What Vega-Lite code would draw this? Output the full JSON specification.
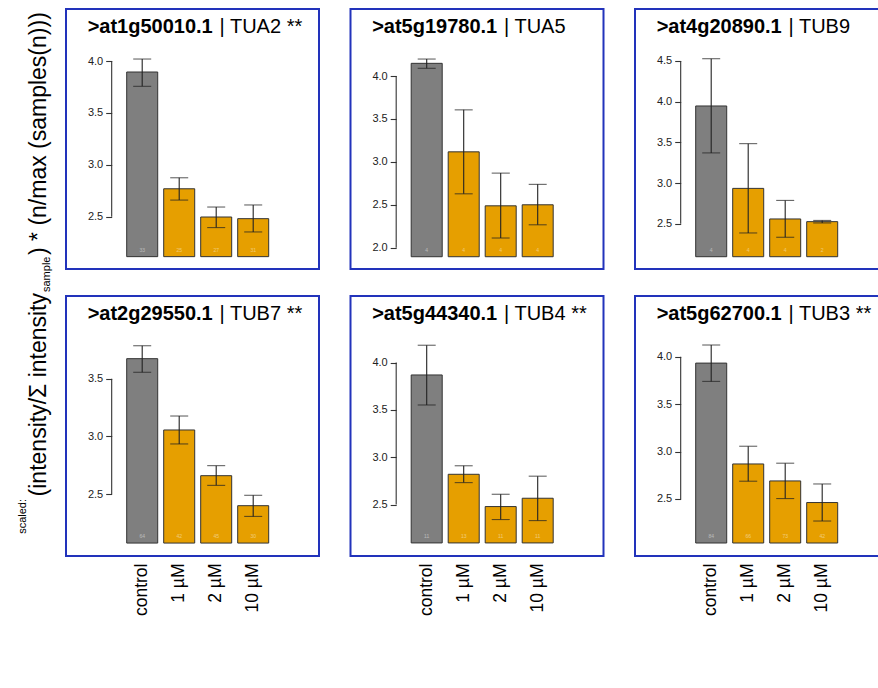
{
  "$schema": "https://vega.github.io/schema/vega-lite/v6.json",
  "background": "white",
  "padding": {"left": 0, "top": 8, "right": 0, "bottom": 0},
  "datasets": {
    "bars": [
      {"gene": "TUA2", "dose": "control", "mean": 3.894, "lo": 3.756, "hi": 4.019, "n": "33"},
      {"gene": "TUA2", "dose": "1 µM", "mean": 2.769, "lo": 2.66, "hi": 2.875, "n": "25"},
      {"gene": "TUA2", "dose": "2 µM", "mean": 2.497, "lo": 2.395, "hi": 2.593, "n": "27"},
      {"gene": "TUA2", "dose": "10 µM", "mean": 2.481, "lo": 2.353, "hi": 2.613, "n": "31"},
      {"gene": "TUA5", "dose": "control", "mean": 4.148, "lo": 4.09, "hi": 4.198, "n": "4"},
      {"gene": "TUA5", "dose": "1 µM", "mean": 3.117, "lo": 2.628, "hi": 3.606, "n": "4"},
      {"gene": "TUA5", "dose": "2 µM", "mean": 2.488, "lo": 2.113, "hi": 2.869, "n": "4"},
      {"gene": "TUA5", "dose": "10 µM", "mean": 2.5, "lo": 2.267, "hi": 2.738, "n": "4"},
      {"gene": "TUB9", "dose": "control", "mean": 3.947, "lo": 3.37, "hi": 4.528, "n": "4"},
      {"gene": "TUB9", "dose": "1 µM", "mean": 2.934, "lo": 2.386, "hi": 3.484, "n": "4"},
      {"gene": "TUB9", "dose": "2 µM", "mean": 2.558, "lo": 2.333, "hi": 2.786, "n": "4"},
      {"gene": "TUB9", "dose": "10 µM", "mean": 2.525, "lo": 2.509, "hi": 2.54, "n": "2"},
      {"gene": "TUB7", "dose": "control", "mean": 3.673, "lo": 3.555, "hi": 3.785, "n": "64"},
      {"gene": "TUB7", "dose": "1 µM", "mean": 3.055, "lo": 2.934, "hi": 3.176, "n": "42"},
      {"gene": "TUB7", "dose": "2 µM", "mean": 2.659, "lo": 2.575, "hi": 2.746, "n": "45"},
      {"gene": "TUB7", "dose": "10 µM", "mean": 2.399, "lo": 2.306, "hi": 2.489, "n": "30"},
      {"gene": "TUB4", "dose": "control", "mean": 3.869, "lo": 3.552, "hi": 4.183, "n": "11"},
      {"gene": "TUB4", "dose": "1 µM", "mean": 2.82, "lo": 2.732, "hi": 2.91, "n": "13"},
      {"gene": "TUB4", "dose": "2 µM", "mean": 2.479, "lo": 2.342, "hi": 2.609, "n": "11"},
      {"gene": "TUB4", "dose": "10 µM", "mean": 2.567, "lo": 2.331, "hi": 2.8, "n": "11"},
      {"gene": "TUB3", "dose": "control", "mean": 3.933, "lo": 3.74, "hi": 4.124, "n": "84"},
      {"gene": "TUB3", "dose": "1 µM", "mean": 2.869, "lo": 2.687, "hi": 3.056, "n": "66"},
      {"gene": "TUB3", "dose": "2 µM", "mean": 2.69, "lo": 2.504, "hi": 2.877, "n": "73"},
      {"gene": "TUB3", "dose": "10 µM", "mean": 2.462, "lo": 2.267, "hi": 2.658, "n": "42"}
    ]
  },
  "spacing": 9,
  "hconcat": [
    {
      "width": 56, "height": 547,
      "view": {"stroke": null},
      "data": {"values": [{}]},
      "layer": [
        {"mark": {"type": "text", "angle": 270, "align": "right", "baseline": "alphabetic", "fontSize": 11, "color": "#000000"},
         "encoding": {"x": {"datum": 26, "type": "quantitative", "scale": {"domain": [0, 56]}, "axis": null}, "y": {"datum": 490, "type": "quantitative", "scale": {"domain": [0, 547], "reverse": true}, "axis": null}, "text": {"value": "scaled:"}}},
        {"mark": {"type": "text", "angle": 270, "align": "right", "baseline": "alphabetic", "fontSize": 23, "color": "#000000"},
         "encoding": {"x": {"datum": 46, "type": "quantitative", "scale": {"domain": [0, 56]}, "axis": null}, "y": {"datum": 284, "type": "quantitative", "scale": {"domain": [0, 547], "reverse": true}, "axis": null}, "text": {"value": "(intensity/Σ intensity"}}},
        {"mark": {"type": "text", "angle": 270, "align": "left", "baseline": "alphabetic", "fontSize": 11, "color": "#000000"},
         "encoding": {"x": {"datum": 50, "type": "quantitative", "scale": {"domain": [0, 56]}, "axis": null}, "y": {"datum": 283, "type": "quantitative", "scale": {"domain": [0, 547], "reverse": true}, "axis": null}, "text": {"value": "sample"}}},
        {"mark": {"type": "text", "angle": 270, "align": "left", "baseline": "alphabetic", "fontSize": 23, "color": "#000000"},
         "encoding": {"x": {"datum": 46, "type": "quantitative", "scale": {"domain": [0, 56]}, "axis": null}, "y": {"datum": 246, "type": "quantitative", "scale": {"domain": [0, 547], "reverse": true}, "axis": null}, "text": {"value": ") * (n/max (samples(n)))"}}}
      ]
    },
    {
      "spacing": 25,
      "vconcat": [
        {
          "spacing": 29.5,
          "hconcat": [
            {
              "width": 253, "height": 260,
              "layer": [
                {
                  "data": {"name": "bars"},
                  "transform": [{"filter": "datum.gene === 'TUA2'"}],
                  "encoding": {"x": {"field": "dose", "type": "nominal", "sort": ["control", "1 µM", "2 µM", "10 µM"], "scale": {"domain": ["control", "1 µM", "2 µM", "10 µM"], "range": [60.7, 202.7], "paddingInner": 0.162, "paddingOuter": 0}, "axis": null}},
                  "layer": [
                    {"mark": {"type": "bar", "stroke": "#333333", "strokeWidth": 1},
                     "encoding": {"y": {"field": "mean", "type": "quantitative", "scale": {"domain": [1.996, 4.501], "nice": false, "zero": false}, "axis": {"title": null, "values": [2.5, 3, 3.5, 4], "format": ".1f", "offset": -45.7, "domain": false, "tickSize": 6, "tickColor": "#333333", "tickWidth": 1.1, "labelFontSize": 11, "labelColor": "#222222", "labelPadding": 3, "labelFlush": false, "labelOverlap": false, "grid": false}},
                       "y2": {"datum": 2.115},
                       "color": {"field": "dose", "type": "nominal", "scale": {"domain": ["control", "1 µM", "2 µM", "10 µM"], "range": ["#7f7f7f", "#e69f00", "#e69f00", "#e69f00"]}, "legend": null}}},
                    {"mark": {"type": "rule", "color": "#222222", "strokeWidth": 1.1}, "encoding": {"y": {"field": "lo", "type": "quantitative", "axis": {"title": null, "values": [2.5, 3, 3.5, 4], "format": ".1f", "offset": -45.7, "domain": false, "tickSize": 6, "tickColor": "#333333", "tickWidth": 1.1, "labelFontSize": 11, "labelColor": "#222222", "labelPadding": 3, "labelFlush": false, "labelOverlap": false, "grid": false}}, "y2": {"field": "hi"}}},
                    {"mark": {"type": "tick", "orient": "horizontal", "size": 18, "thickness": 1.1, "color": "#222222"}, "encoding": {"y": {"field": "lo", "type": "quantitative", "axis": {"title": null, "values": [2.5, 3, 3.5, 4], "format": ".1f", "offset": -45.7, "domain": false, "tickSize": 6, "tickColor": "#333333", "tickWidth": 1.1, "labelFontSize": 11, "labelColor": "#222222", "labelPadding": 3, "labelFlush": false, "labelOverlap": false, "grid": false}}}},
                    {"mark": {"type": "tick", "orient": "horizontal", "size": 18, "thickness": 1.1, "color": "#222222"}, "encoding": {"y": {"field": "hi", "type": "quantitative", "axis": {"title": null, "values": [2.5, 3, 3.5, 4], "format": ".1f", "offset": -45.7, "domain": false, "tickSize": 6, "tickColor": "#333333", "tickWidth": 1.1, "labelFontSize": 11, "labelColor": "#222222", "labelPadding": 3, "labelFlush": false, "labelOverlap": false, "grid": false}}}},
                    {"mark": {"type": "text", "fontSize": 5, "color": "#ffffff", "opacity": 0.45, "dy": -7}, "encoding": {"y": {"datum": 2.115, "type": "quantitative", "axis": {"title": null, "values": [2.5, 3, 3.5, 4], "format": ".1f", "offset": -45.7, "domain": false, "tickSize": 6, "tickColor": "#333333", "tickWidth": 1.1, "labelFontSize": 11, "labelColor": "#222222", "labelPadding": 3, "labelFlush": false, "labelOverlap": false, "grid": false}}, "text": {"field": "n"}}}
                  ]
                },
                {"data": {"values": [{}]}, "mark": {"type": "rule", "color": "#333333", "strokeWidth": 1.1},
                 "encoding": {"x": {"datum": 0.1806, "type": "quantitative", "scale": {"domain": [0, 1]}, "axis": null}, "y": {"datum": 2.5, "type": "quantitative", "scale": {"domain": [1.996, 4.501], "nice": false, "zero": false}, "axis": null}, "y2": {"datum": 4.0}}},
                {"data": {"values": [{}]}, "mark": {"type": "text", "fontSize": 20, "fontWeight": "bold", "align": "right", "baseline": "alphabetic", "color": "#000000"},
                 "encoding": {"x": {"datum": 0.58, "type": "quantitative", "scale": {"domain": [0, 1]}, "axis": null}, "y": {"datum": 0.908, "type": "quantitative", "scale": {"domain": [0, 1]}, "axis": null}, "text": {"value": ">at1g50010.1"}}},
                {"data": {"values": [{}]}, "mark": {"type": "text", "fontSize": 20, "align": "left", "baseline": "alphabetic", "color": "#000000"},
                 "encoding": {"x": {"datum": 0.607, "type": "quantitative", "scale": {"domain": [0, 1]}, "axis": null}, "y": {"datum": 0.908, "type": "quantitative", "scale": {"domain": [0, 1]}, "axis": null}, "text": {"value": "| TUA2 **"}}}
              ],
              "resolve": {"scale": {"x": "independent", "y": "independent"}}
            },
            {
              "width": 253, "height": 260,
              "layer": [
                {
                  "data": {"name": "bars"},
                  "transform": [{"filter": "datum.gene === 'TUA5'"}],
                  "encoding": {"x": {"field": "dose", "type": "nominal", "sort": ["control", "1 µM", "2 µM", "10 µM"], "scale": {"domain": ["control", "1 µM", "2 µM", "10 µM"], "range": [60.7, 202.7], "paddingInner": 0.162, "paddingOuter": 0}, "axis": null}},
                  "layer": [
                    {"mark": {"type": "bar", "stroke": "#333333", "strokeWidth": 1},
                     "encoding": {"y": {"field": "mean", "type": "quantitative", "scale": {"domain": [1.752, 4.781], "nice": false, "zero": false}, "axis": {"title": null, "values": [2, 2.5, 3, 3.5, 4], "format": ".1f", "offset": -45.7, "domain": false, "tickSize": 6, "tickColor": "#333333", "tickWidth": 1.1, "labelFontSize": 11, "labelColor": "#222222", "labelPadding": 3, "labelFlush": false, "labelOverlap": false, "grid": false}},
                       "y2": {"datum": 1.895},
                       "color": {"field": "dose", "type": "nominal", "scale": {"domain": ["control", "1 µM", "2 µM", "10 µM"], "range": ["#7f7f7f", "#e69f00", "#e69f00", "#e69f00"]}, "legend": null}}},
                    {"mark": {"type": "rule", "color": "#222222", "strokeWidth": 1.1}, "encoding": {"y": {"field": "lo", "type": "quantitative", "axis": {"title": null, "values": [2, 2.5, 3, 3.5, 4], "format": ".1f", "offset": -45.7, "domain": false, "tickSize": 6, "tickColor": "#333333", "tickWidth": 1.1, "labelFontSize": 11, "labelColor": "#222222", "labelPadding": 3, "labelFlush": false, "labelOverlap": false, "grid": false}}, "y2": {"field": "hi"}}},
                    {"mark": {"type": "tick", "orient": "horizontal", "size": 18, "thickness": 1.1, "color": "#222222"}, "encoding": {"y": {"field": "lo", "type": "quantitative", "axis": {"title": null, "values": [2, 2.5, 3, 3.5, 4], "format": ".1f", "offset": -45.7, "domain": false, "tickSize": 6, "tickColor": "#333333", "tickWidth": 1.1, "labelFontSize": 11, "labelColor": "#222222", "labelPadding": 3, "labelFlush": false, "labelOverlap": false, "grid": false}}}},
                    {"mark": {"type": "tick", "orient": "horizontal", "size": 18, "thickness": 1.1, "color": "#222222"}, "encoding": {"y": {"field": "hi", "type": "quantitative", "axis": {"title": null, "values": [2, 2.5, 3, 3.5, 4], "format": ".1f", "offset": -45.7, "domain": false, "tickSize": 6, "tickColor": "#333333", "tickWidth": 1.1, "labelFontSize": 11, "labelColor": "#222222", "labelPadding": 3, "labelFlush": false, "labelOverlap": false, "grid": false}}}},
                    {"mark": {"type": "text", "fontSize": 5, "color": "#ffffff", "opacity": 0.45, "dy": -7}, "encoding": {"y": {"datum": 1.895, "type": "quantitative", "axis": {"title": null, "values": [2, 2.5, 3, 3.5, 4], "format": ".1f", "offset": -45.7, "domain": false, "tickSize": 6, "tickColor": "#333333", "tickWidth": 1.1, "labelFontSize": 11, "labelColor": "#222222", "labelPadding": 3, "labelFlush": false, "labelOverlap": false, "grid": false}}, "text": {"field": "n"}}}
                  ]
                },
                {"data": {"values": [{}]}, "mark": {"type": "rule", "color": "#333333", "strokeWidth": 1.1},
                 "encoding": {"x": {"datum": 0.1806, "type": "quantitative", "scale": {"domain": [0, 1]}, "axis": null}, "y": {"datum": 2.0, "type": "quantitative", "scale": {"domain": [1.752, 4.781], "nice": false, "zero": false}, "axis": null}, "y2": {"datum": 4.0}}},
                {"data": {"values": [{}]}, "mark": {"type": "text", "fontSize": 20, "fontWeight": "bold", "align": "right", "baseline": "alphabetic", "color": "#000000"},
                 "encoding": {"x": {"datum": 0.58, "type": "quantitative", "scale": {"domain": [0, 1]}, "axis": null}, "y": {"datum": 0.908, "type": "quantitative", "scale": {"domain": [0, 1]}, "axis": null}, "text": {"value": ">at5g19780.1"}}},
                {"data": {"values": [{}]}, "mark": {"type": "text", "fontSize": 20, "align": "left", "baseline": "alphabetic", "color": "#000000"},
                 "encoding": {"x": {"datum": 0.607, "type": "quantitative", "scale": {"domain": [0, 1]}, "axis": null}, "y": {"datum": 0.908, "type": "quantitative", "scale": {"domain": [0, 1]}, "axis": null}, "text": {"value": "| TUA5"}}}
              ],
              "resolve": {"scale": {"x": "independent", "y": "independent"}}
            },
            {
              "width": 253, "height": 260,
              "layer": [
                {
                  "data": {"name": "bars"},
                  "transform": [{"filter": "datum.gene === 'TUB9'"}],
                  "encoding": {"x": {"field": "dose", "type": "nominal", "sort": ["control", "1 µM", "2 µM", "10 µM"], "scale": {"domain": ["control", "1 µM", "2 µM", "10 µM"], "range": [60.7, 202.7], "paddingInner": 0.162, "paddingOuter": 0}, "axis": null}},
                  "layer": [
                    {"mark": {"type": "bar", "stroke": "#333333", "strokeWidth": 1},
                     "encoding": {"y": {"field": "mean", "type": "quantitative", "scale": {"domain": [1.943, 5.139], "nice": false, "zero": false}, "axis": {"title": null, "values": [2.5, 3, 3.5, 4, 4.5], "format": ".1f", "offset": -45.7, "domain": false, "tickSize": 6, "tickColor": "#333333", "tickWidth": 1.1, "labelFontSize": 11, "labelColor": "#222222", "labelPadding": 3, "labelFlush": false, "labelOverlap": false, "grid": false}},
                       "y2": {"datum": 2.094},
                       "color": {"field": "dose", "type": "nominal", "scale": {"domain": ["control", "1 µM", "2 µM", "10 µM"], "range": ["#7f7f7f", "#e69f00", "#e69f00", "#e69f00"]}, "legend": null}}},
                    {"mark": {"type": "rule", "color": "#222222", "strokeWidth": 1.1}, "encoding": {"y": {"field": "lo", "type": "quantitative", "axis": {"title": null, "values": [2.5, 3, 3.5, 4, 4.5], "format": ".1f", "offset": -45.7, "domain": false, "tickSize": 6, "tickColor": "#333333", "tickWidth": 1.1, "labelFontSize": 11, "labelColor": "#222222", "labelPadding": 3, "labelFlush": false, "labelOverlap": false, "grid": false}}, "y2": {"field": "hi"}}},
                    {"mark": {"type": "tick", "orient": "horizontal", "size": 18, "thickness": 1.1, "color": "#222222"}, "encoding": {"y": {"field": "lo", "type": "quantitative", "axis": {"title": null, "values": [2.5, 3, 3.5, 4, 4.5], "format": ".1f", "offset": -45.7, "domain": false, "tickSize": 6, "tickColor": "#333333", "tickWidth": 1.1, "labelFontSize": 11, "labelColor": "#222222", "labelPadding": 3, "labelFlush": false, "labelOverlap": false, "grid": false}}}},
                    {"mark": {"type": "tick", "orient": "horizontal", "size": 18, "thickness": 1.1, "color": "#222222"}, "encoding": {"y": {"field": "hi", "type": "quantitative", "axis": {"title": null, "values": [2.5, 3, 3.5, 4, 4.5], "format": ".1f", "offset": -45.7, "domain": false, "tickSize": 6, "tickColor": "#333333", "tickWidth": 1.1, "labelFontSize": 11, "labelColor": "#222222", "labelPadding": 3, "labelFlush": false, "labelOverlap": false, "grid": false}}}},
                    {"mark": {"type": "text", "fontSize": 5, "color": "#ffffff", "opacity": 0.45, "dy": -7}, "encoding": {"y": {"datum": 2.094, "type": "quantitative", "axis": {"title": null, "values": [2.5, 3, 3.5, 4, 4.5], "format": ".1f", "offset": -45.7, "domain": false, "tickSize": 6, "tickColor": "#333333", "tickWidth": 1.1, "labelFontSize": 11, "labelColor": "#222222", "labelPadding": 3, "labelFlush": false, "labelOverlap": false, "grid": false}}, "text": {"field": "n"}}}
                  ]
                },
                {"data": {"values": [{}]}, "mark": {"type": "rule", "color": "#333333", "strokeWidth": 1.1},
                 "encoding": {"x": {"datum": 0.1806, "type": "quantitative", "scale": {"domain": [0, 1]}, "axis": null}, "y": {"datum": 2.5, "type": "quantitative", "scale": {"domain": [1.943, 5.139], "nice": false, "zero": false}, "axis": null}, "y2": {"datum": 4.5}}},
                {"data": {"values": [{}]}, "mark": {"type": "text", "fontSize": 20, "fontWeight": "bold", "align": "right", "baseline": "alphabetic", "color": "#000000"},
                 "encoding": {"x": {"datum": 0.58, "type": "quantitative", "scale": {"domain": [0, 1]}, "axis": null}, "y": {"datum": 0.908, "type": "quantitative", "scale": {"domain": [0, 1]}, "axis": null}, "text": {"value": ">at4g20890.1"}}},
                {"data": {"values": [{}]}, "mark": {"type": "text", "fontSize": 20, "align": "left", "baseline": "alphabetic", "color": "#000000"},
                 "encoding": {"x": {"datum": 0.607, "type": "quantitative", "scale": {"domain": [0, 1]}, "axis": null}, "y": {"datum": 0.908, "type": "quantitative", "scale": {"domain": [0, 1]}, "axis": null}, "text": {"value": "| TUB9"}}}
              ],
              "resolve": {"scale": {"x": "independent", "y": "independent"}}
            }
          ]
        },
        {
          "spacing": 29.5,
          "hconcat": [
            {
              "width": 253, "height": 260,
              "layer": [
                {
                  "data": {"name": "bars"},
                  "transform": [{"filter": "datum.gene === 'TUB7'"}],
                  "encoding": {"x": {"field": "dose", "type": "nominal", "sort": ["control", "1 µM", "2 µM", "10 µM"], "scale": {"domain": ["control", "1 µM", "2 µM", "10 µM"], "range": [60.7, 202.7], "paddingInner": 0.162, "paddingOuter": 0}, "axis": {"title": null, "labelAngle": -90, "labelAlign": "right", "labelBaseline": "middle", "labelFontSize": 17.5, "labelColor": "#000000", "labelPadding": 7, "domain": false, "ticks": false}}},
                  "layer": [
                    {"mark": {"type": "bar", "stroke": "#333333", "strokeWidth": 1},
                     "encoding": {"y": {"field": "mean", "type": "quantitative", "scale": {"domain": [1.963, 4.216], "nice": false, "zero": false}, "axis": {"title": null, "values": [2.5, 3, 3.5], "format": ".1f", "offset": -45.7, "domain": false, "tickSize": 6, "tickColor": "#333333", "tickWidth": 1.1, "labelFontSize": 11, "labelColor": "#222222", "labelPadding": 3, "labelFlush": false, "labelOverlap": false, "grid": false}},
                       "y2": {"datum": 2.075},
                       "color": {"field": "dose", "type": "nominal", "scale": {"domain": ["control", "1 µM", "2 µM", "10 µM"], "range": ["#7f7f7f", "#e69f00", "#e69f00", "#e69f00"]}, "legend": null}}},
                    {"mark": {"type": "rule", "color": "#222222", "strokeWidth": 1.1}, "encoding": {"y": {"field": "lo", "type": "quantitative", "axis": {"title": null, "values": [2.5, 3, 3.5], "format": ".1f", "offset": -45.7, "domain": false, "tickSize": 6, "tickColor": "#333333", "tickWidth": 1.1, "labelFontSize": 11, "labelColor": "#222222", "labelPadding": 3, "labelFlush": false, "labelOverlap": false, "grid": false}}, "y2": {"field": "hi"}}},
                    {"mark": {"type": "tick", "orient": "horizontal", "size": 18, "thickness": 1.1, "color": "#222222"}, "encoding": {"y": {"field": "lo", "type": "quantitative", "axis": {"title": null, "values": [2.5, 3, 3.5], "format": ".1f", "offset": -45.7, "domain": false, "tickSize": 6, "tickColor": "#333333", "tickWidth": 1.1, "labelFontSize": 11, "labelColor": "#222222", "labelPadding": 3, "labelFlush": false, "labelOverlap": false, "grid": false}}}},
                    {"mark": {"type": "tick", "orient": "horizontal", "size": 18, "thickness": 1.1, "color": "#222222"}, "encoding": {"y": {"field": "hi", "type": "quantitative", "axis": {"title": null, "values": [2.5, 3, 3.5], "format": ".1f", "offset": -45.7, "domain": false, "tickSize": 6, "tickColor": "#333333", "tickWidth": 1.1, "labelFontSize": 11, "labelColor": "#222222", "labelPadding": 3, "labelFlush": false, "labelOverlap": false, "grid": false}}}},
                    {"mark": {"type": "text", "fontSize": 5, "color": "#ffffff", "opacity": 0.45, "dy": -7}, "encoding": {"y": {"datum": 2.075, "type": "quantitative", "axis": {"title": null, "values": [2.5, 3, 3.5], "format": ".1f", "offset": -45.7, "domain": false, "tickSize": 6, "tickColor": "#333333", "tickWidth": 1.1, "labelFontSize": 11, "labelColor": "#222222", "labelPadding": 3, "labelFlush": false, "labelOverlap": false, "grid": false}}, "text": {"field": "n"}}}
                  ]
                },
                {"data": {"values": [{}]}, "mark": {"type": "rule", "color": "#333333", "strokeWidth": 1.1},
                 "encoding": {"x": {"datum": 0.1806, "type": "quantitative", "scale": {"domain": [0, 1]}, "axis": null}, "y": {"datum": 2.5, "type": "quantitative", "scale": {"domain": [1.963, 4.216], "nice": false, "zero": false}, "axis": null}, "y2": {"datum": 3.5}}},
                {"data": {"values": [{}]}, "mark": {"type": "text", "fontSize": 20, "fontWeight": "bold", "align": "right", "baseline": "alphabetic", "color": "#000000"},
                 "encoding": {"x": {"datum": 0.58, "type": "quantitative", "scale": {"domain": [0, 1]}, "axis": null}, "y": {"datum": 0.908, "type": "quantitative", "scale": {"domain": [0, 1]}, "axis": null}, "text": {"value": ">at2g29550.1"}}},
                {"data": {"values": [{}]}, "mark": {"type": "text", "fontSize": 20, "align": "left", "baseline": "alphabetic", "color": "#000000"},
                 "encoding": {"x": {"datum": 0.607, "type": "quantitative", "scale": {"domain": [0, 1]}, "axis": null}, "y": {"datum": 0.908, "type": "quantitative", "scale": {"domain": [0, 1]}, "axis": null}, "text": {"value": "| TUB7 **"}}}
              ],
              "resolve": {"scale": {"x": "independent", "y": "independent"}}
            },
            {
              "width": 253, "height": 260,
              "layer": [
                {
                  "data": {"name": "bars"},
                  "transform": [{"filter": "datum.gene === 'TUB4'"}],
                  "encoding": {"x": {"field": "dose", "type": "nominal", "sort": ["control", "1 µM", "2 µM", "10 µM"], "scale": {"domain": ["control", "1 µM", "2 µM", "10 µM"], "range": [60.7, 202.7], "paddingInner": 0.162, "paddingOuter": 0}, "axis": {"title": null, "labelAngle": -90, "labelAlign": "right", "labelBaseline": "middle", "labelFontSize": 17.5, "labelColor": "#000000", "labelPadding": 7, "domain": false, "ticks": false}}},
                  "layer": [
                    {"mark": {"type": "bar", "stroke": "#333333", "strokeWidth": 1},
                     "encoding": {"y": {"field": "mean", "type": "quantitative", "scale": {"domain": [1.957, 4.703], "nice": false, "zero": false}, "axis": {"title": null, "values": [2.5, 3, 3.5, 4], "format": ".1f", "offset": -45.7, "domain": false, "tickSize": 6, "tickColor": "#333333", "tickWidth": 1.1, "labelFontSize": 11, "labelColor": "#222222", "labelPadding": 3, "labelFlush": false, "labelOverlap": false, "grid": false}},
                       "y2": {"datum": 2.095},
                       "color": {"field": "dose", "type": "nominal", "scale": {"domain": ["control", "1 µM", "2 µM", "10 µM"], "range": ["#7f7f7f", "#e69f00", "#e69f00", "#e69f00"]}, "legend": null}}},
                    {"mark": {"type": "rule", "color": "#222222", "strokeWidth": 1.1}, "encoding": {"y": {"field": "lo", "type": "quantitative", "axis": {"title": null, "values": [2.5, 3, 3.5, 4], "format": ".1f", "offset": -45.7, "domain": false, "tickSize": 6, "tickColor": "#333333", "tickWidth": 1.1, "labelFontSize": 11, "labelColor": "#222222", "labelPadding": 3, "labelFlush": false, "labelOverlap": false, "grid": false}}, "y2": {"field": "hi"}}},
                    {"mark": {"type": "tick", "orient": "horizontal", "size": 18, "thickness": 1.1, "color": "#222222"}, "encoding": {"y": {"field": "lo", "type": "quantitative", "axis": {"title": null, "values": [2.5, 3, 3.5, 4], "format": ".1f", "offset": -45.7, "domain": false, "tickSize": 6, "tickColor": "#333333", "tickWidth": 1.1, "labelFontSize": 11, "labelColor": "#222222", "labelPadding": 3, "labelFlush": false, "labelOverlap": false, "grid": false}}}},
                    {"mark": {"type": "tick", "orient": "horizontal", "size": 18, "thickness": 1.1, "color": "#222222"}, "encoding": {"y": {"field": "hi", "type": "quantitative", "axis": {"title": null, "values": [2.5, 3, 3.5, 4], "format": ".1f", "offset": -45.7, "domain": false, "tickSize": 6, "tickColor": "#333333", "tickWidth": 1.1, "labelFontSize": 11, "labelColor": "#222222", "labelPadding": 3, "labelFlush": false, "labelOverlap": false, "grid": false}}}},
                    {"mark": {"type": "text", "fontSize": 5, "color": "#ffffff", "opacity": 0.45, "dy": -7}, "encoding": {"y": {"datum": 2.095, "type": "quantitative", "axis": {"title": null, "values": [2.5, 3, 3.5, 4], "format": ".1f", "offset": -45.7, "domain": false, "tickSize": 6, "tickColor": "#333333", "tickWidth": 1.1, "labelFontSize": 11, "labelColor": "#222222", "labelPadding": 3, "labelFlush": false, "labelOverlap": false, "grid": false}}, "text": {"field": "n"}}}
                  ]
                },
                {"data": {"values": [{}]}, "mark": {"type": "rule", "color": "#333333", "strokeWidth": 1.1},
                 "encoding": {"x": {"datum": 0.1806, "type": "quantitative", "scale": {"domain": [0, 1]}, "axis": null}, "y": {"datum": 2.5, "type": "quantitative", "scale": {"domain": [1.957, 4.703], "nice": false, "zero": false}, "axis": null}, "y2": {"datum": 4.0}}},
                {"data": {"values": [{}]}, "mark": {"type": "text", "fontSize": 20, "fontWeight": "bold", "align": "right", "baseline": "alphabetic", "color": "#000000"},
                 "encoding": {"x": {"datum": 0.58, "type": "quantitative", "scale": {"domain": [0, 1]}, "axis": null}, "y": {"datum": 0.908, "type": "quantitative", "scale": {"domain": [0, 1]}, "axis": null}, "text": {"value": ">at5g44340.1"}}},
                {"data": {"values": [{}]}, "mark": {"type": "text", "fontSize": 20, "align": "left", "baseline": "alphabetic", "color": "#000000"},
                 "encoding": {"x": {"datum": 0.607, "type": "quantitative", "scale": {"domain": [0, 1]}, "axis": null}, "y": {"datum": 0.908, "type": "quantitative", "scale": {"domain": [0, 1]}, "axis": null}, "text": {"value": "| TUB4 **"}}}
              ],
              "resolve": {"scale": {"x": "independent", "y": "independent"}}
            },
            {
              "width": 253, "height": 260,
              "layer": [
                {
                  "data": {"name": "bars"},
                  "transform": [{"filter": "datum.gene === 'TUB3'"}],
                  "encoding": {"x": {"field": "dose", "type": "nominal", "sort": ["control", "1 µM", "2 µM", "10 µM"], "scale": {"domain": ["control", "1 µM", "2 µM", "10 µM"], "range": [60.7, 202.7], "paddingInner": 0.162, "paddingOuter": 0}, "axis": {"title": null, "labelAngle": -90, "labelAlign": "right", "labelBaseline": "middle", "labelFontSize": 17.5, "labelColor": "#000000", "labelPadding": 7, "domain": false, "ticks": false}}},
                  "layer": [
                    {"mark": {"type": "bar", "stroke": "#333333", "strokeWidth": 1},
                     "encoding": {"y": {"field": "mean", "type": "quantitative", "scale": {"domain": [1.898, 4.641], "nice": false, "zero": false}, "axis": {"title": null, "values": [2.5, 3, 3.5, 4], "format": ".1f", "offset": -45.7, "domain": false, "tickSize": 6, "tickColor": "#333333", "tickWidth": 1.1, "labelFontSize": 11, "labelColor": "#222222", "labelPadding": 3, "labelFlush": false, "labelOverlap": false, "grid": false}},
                       "y2": {"datum": 2.035},
                       "color": {"field": "dose", "type": "nominal", "scale": {"domain": ["control", "1 µM", "2 µM", "10 µM"], "range": ["#7f7f7f", "#e69f00", "#e69f00", "#e69f00"]}, "legend": null}}},
                    {"mark": {"type": "rule", "color": "#222222", "strokeWidth": 1.1}, "encoding": {"y": {"field": "lo", "type": "quantitative", "axis": {"title": null, "values": [2.5, 3, 3.5, 4], "format": ".1f", "offset": -45.7, "domain": false, "tickSize": 6, "tickColor": "#333333", "tickWidth": 1.1, "labelFontSize": 11, "labelColor": "#222222", "labelPadding": 3, "labelFlush": false, "labelOverlap": false, "grid": false}}, "y2": {"field": "hi"}}},
                    {"mark": {"type": "tick", "orient": "horizontal", "size": 18, "thickness": 1.1, "color": "#222222"}, "encoding": {"y": {"field": "lo", "type": "quantitative", "axis": {"title": null, "values": [2.5, 3, 3.5, 4], "format": ".1f", "offset": -45.7, "domain": false, "tickSize": 6, "tickColor": "#333333", "tickWidth": 1.1, "labelFontSize": 11, "labelColor": "#222222", "labelPadding": 3, "labelFlush": false, "labelOverlap": false, "grid": false}}}},
                    {"mark": {"type": "tick", "orient": "horizontal", "size": 18, "thickness": 1.1, "color": "#222222"}, "encoding": {"y": {"field": "hi", "type": "quantitative", "axis": {"title": null, "values": [2.5, 3, 3.5, 4], "format": ".1f", "offset": -45.7, "domain": false, "tickSize": 6, "tickColor": "#333333", "tickWidth": 1.1, "labelFontSize": 11, "labelColor": "#222222", "labelPadding": 3, "labelFlush": false, "labelOverlap": false, "grid": false}}}},
                    {"mark": {"type": "text", "fontSize": 5, "color": "#ffffff", "opacity": 0.45, "dy": -7}, "encoding": {"y": {"datum": 2.035, "type": "quantitative", "axis": {"title": null, "values": [2.5, 3, 3.5, 4], "format": ".1f", "offset": -45.7, "domain": false, "tickSize": 6, "tickColor": "#333333", "tickWidth": 1.1, "labelFontSize": 11, "labelColor": "#222222", "labelPadding": 3, "labelFlush": false, "labelOverlap": false, "grid": false}}, "text": {"field": "n"}}}
                  ]
                },
                {"data": {"values": [{}]}, "mark": {"type": "rule", "color": "#333333", "strokeWidth": 1.1},
                 "encoding": {"x": {"datum": 0.1806, "type": "quantitative", "scale": {"domain": [0, 1]}, "axis": null}, "y": {"datum": 2.5, "type": "quantitative", "scale": {"domain": [1.898, 4.641], "nice": false, "zero": false}, "axis": null}, "y2": {"datum": 4.0}}},
                {"data": {"values": [{}]}, "mark": {"type": "text", "fontSize": 20, "fontWeight": "bold", "align": "right", "baseline": "alphabetic", "color": "#000000"},
                 "encoding": {"x": {"datum": 0.58, "type": "quantitative", "scale": {"domain": [0, 1]}, "axis": null}, "y": {"datum": 0.908, "type": "quantitative", "scale": {"domain": [0, 1]}, "axis": null}, "text": {"value": ">at5g62700.1"}}},
                {"data": {"values": [{}]}, "mark": {"type": "text", "fontSize": 20, "align": "left", "baseline": "alphabetic", "color": "#000000"},
                 "encoding": {"x": {"datum": 0.607, "type": "quantitative", "scale": {"domain": [0, 1]}, "axis": null}, "y": {"datum": 0.908, "type": "quantitative", "scale": {"domain": [0, 1]}, "axis": null}, "text": {"value": "| TUB3 **"}}}
              ],
              "resolve": {"scale": {"x": "independent", "y": "independent"}}
            }
          ]
        }
      ]
    }
  ],
  "config": {
    "font": "Liberation Sans",
    "view": {"stroke": "#2233bb", "strokeWidth": 2},
    "axis": {"grid": false, "labelFont": "Liberation Sans"}
  }
}
